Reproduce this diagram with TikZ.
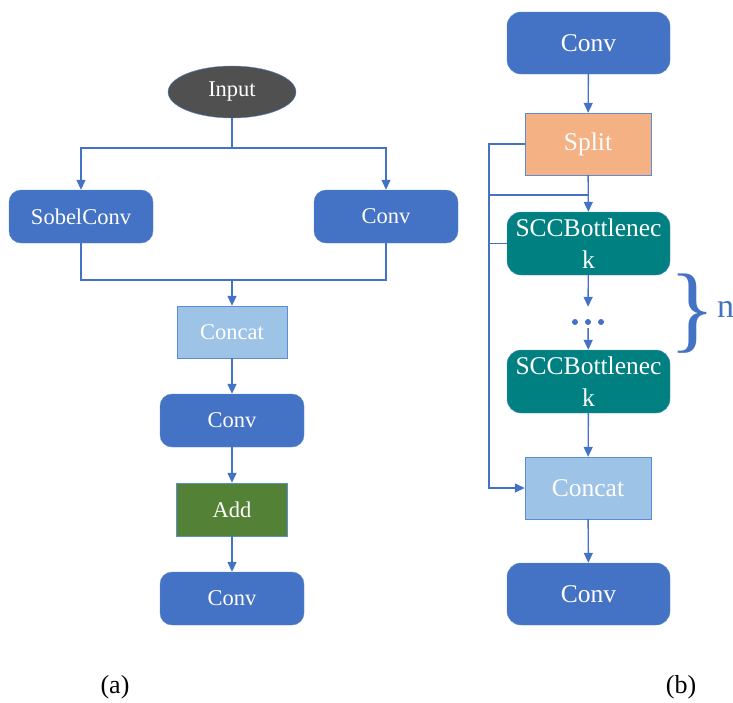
\documentclass[tikz,border=0pt]{standalone}
\usepackage{fontspec}
\setmainfont{Liberation Serif}
\usepackage{tikz}
\usetikzlibrary{shapes.geometric, arrows.meta, positioning, calc}
\definecolor{conv_blue}{RGB}{68, 114, 196}
\definecolor{edge_blue}{RGB}{91, 140, 214}
\definecolor{cat_blue}{RGB}{157, 195, 230}
\definecolor{split_orange}{RGB}{244, 177, 131}
\definecolor{scc_teal}{RGB}{0, 128, 128}
\definecolor{add_green}{RGB}{83, 129, 53}
\definecolor{input_gray}{RGB}{80, 80, 80}

\begin{document}
\begin{tikzpicture}[
        x=1pt, y=-1pt,
        every node/.style={inner sep=2pt, text=white},
        convbox/.style={draw=edge_blue, fill=conv_blue, rounded corners=12pt, minimum width=144pt, minimum height=53pt},
        convbig/.style={draw=edge_blue, fill=conv_blue, rounded corners=14pt, minimum width=163pt, minimum height=62pt},
        sccbox/.style={draw=edge_blue, fill=scc_teal, rounded corners=14pt, minimum width=163pt, minimum height=63pt, align=center},
        catbox/.style={draw=edge_blue, fill=cat_blue},
        link/.style={draw=conv_blue, line width=1.4pt},
        arr/.style={link, -{Triangle[length=10pt, width=9pt]}}
    ]
        \useasboundingbox (0, 0) rectangle (733, 702);

        % -------- (a) --------
        \begin{scope}[font=\fontsize{22.5}{26}\selectfont]
        \node[ellipse, draw=edge_blue, fill=input_gray, minimum width=128pt, minimum height=52pt] (input) at (232, 92) {Input};
        \node[convbox] (sobel) at (81, 216.5) {SobelConv};
        \node[convbox] (conva) at (386, 216.5) {Conv};
        \node[catbox, minimum width=110pt, minimum height=52pt] (cata) at (232, 332) {Concat};
        \node[convbox] (convb) at (232, 420.5) {Conv};
        \node[draw=edge_blue, fill=add_green, minimum width=111pt, minimum height=53pt] (add) at (232, 509.5) {Add};
        \node[convbox] (convc) at (232, 598.5) {Conv};
        \end{scope}

        \coordinate (fork) at (232, 148);
        \coordinate (join) at (232, 280);

        \draw[link] (input) -- (fork);
        \draw[arr] (fork) -| (sobel);
        \draw[arr] (fork) -| (conva);
        \draw[link] (sobel.south) |- (join) -| (conva.south);
        \draw[arr] (join) -- (cata);
        \draw[arr] (cata) -- (convb);
        \draw[arr] (convb) -- (add);
        \draw[arr] (add) -- (convc);

        % -------- (b) --------
        \begin{scope}[font=\fontsize{25.5}{32}\selectfont]
        \node[convbig] (convtop) at (588.5, 43) {Conv};
        \node[draw=edge_blue, fill=split_orange, minimum width=126pt, minimum height=62pt] (split) at (588, 144) {Split};
        \node[sccbox] (scca) at (588.5, 243.5) {SCCBottlenec\\k};
        \node[inner sep=0pt, minimum width=40pt, minimum height=21pt] (dots) at (588, 317.5) {};
        \node[sccbox] (sccb) at (588.5, 381.5) {SCCBottlenec\\k};
        \node[catbox, minimum width=126pt, minimum height=62pt] (catb) at (588, 488) {Concat};
        \node[convbig] (convend) at (588.5, 594) {Conv};
        \end{scope}

        \foreach \dx in {-13, 0, 13}{
            \fill[conv_blue] (588+\dx, 322) circle (3pt);
        }

        \coordinate (skip) at (489, 488);
        \coordinate (tap) at (588, 195);

        \draw[arr] (convtop) -- (split);
        \draw[arr] (split) -- (scca);
        \draw[arr] (split.west) -| (skip) -- (catb.west);
        \draw[link] (tap) -- (skip |- tap);
        \draw[link] (skip |- scca) -- (scca.west);
        \draw[arr] (scca) -- (dots);
        \draw[arr] (dots) -- (sccb);
        \draw[arr] (sccb) -- (catb);
        \draw[arr] (catb) -- (convend);

        % graffa "n"
        \node[text=conv_blue, inner sep=0pt, anchor=east, font=\fontsize{96}{96}\selectfont] (brace) at (716, 314) {\}};
        \node[text=conv_blue, anchor=base west, inner sep=0pt, font=\fontsize{34}{34}\selectfont] (nrep) at (717, 317) {n};

        % -------- etichette --------
        \node[text=black, font=\fontsize{26}{26}\selectfont] (laba) at (115, 687) {(a)};
        \node[text=black, font=\fontsize{26}{26}\selectfont] (labb) at (681, 687) {(b)};
    \end{tikzpicture}
\end{document}
